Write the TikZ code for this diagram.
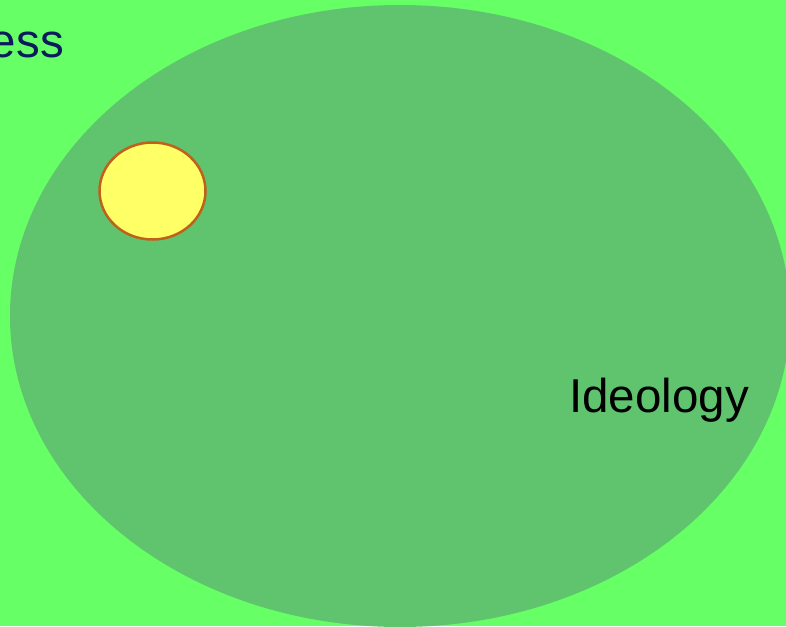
\documentclass[tikz,border=0pt]{standalone}
\usepackage{fontspec}
\setmainfont{Liberation Sans}
\usetikzlibrary{shapes.geometric}
\definecolor{bggreen}{HTML}{66FF66}
\definecolor{ellgreen}{HTML}{60C46E}
\definecolor{sunyellow}{HTML}{FFFF66}
\definecolor{sunedge}{HTML}{C0601A}
\definecolor{navytext}{HTML}{0A1A5C}
\begin{document}
\begin{tikzpicture}[x=1pt,y=-1pt,
  lbl/.style={inner sep=0pt,font=\fontsize{47.5}{52}\selectfont}]
\useasboundingbox (0,0) rectangle (786,626);
\fill[bggreen] (0,0) rectangle (786,626);
\node[ellipse,fill=ellgreen,minimum width=780pt,minimum height=622pt,inner sep=0pt] (ideo) at (400,316) {};
\node[fill=sunyellow,draw=sunedge,line width=2.5pt,ellipse,minimum width=106pt,minimum height=97pt,inner sep=0pt] (sun) at (152.5,191) {};
\node[lbl,anchor=base east] (ideolbl) at (749,412) {Ideology};
\node[lbl,anchor=base east,text=navytext] (esslbl) at (64,58) {ess};
\end{tikzpicture}
\end{document}
